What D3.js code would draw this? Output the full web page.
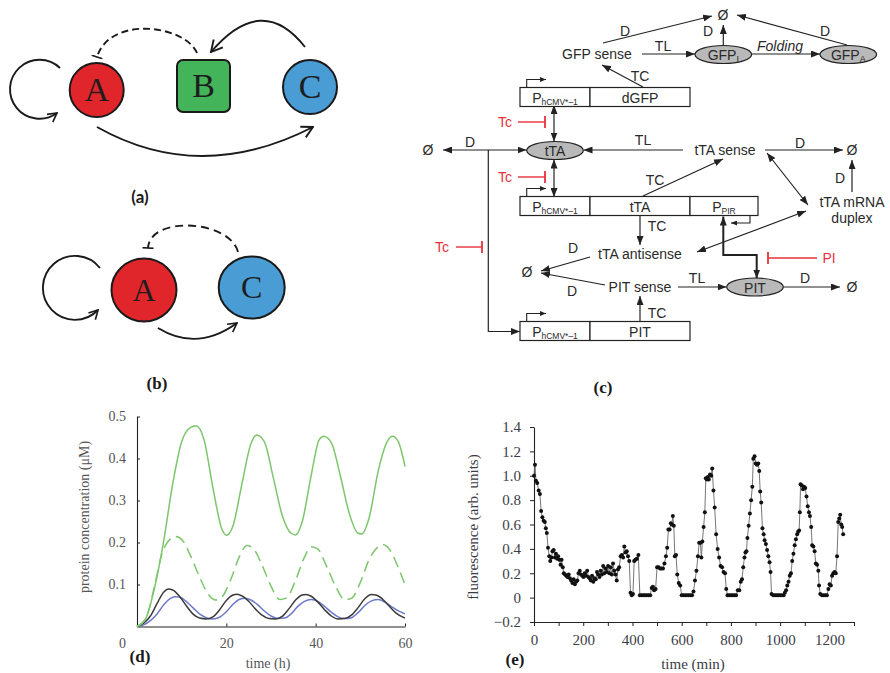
<!DOCTYPE html>
<html>
<head>
<meta charset="utf-8">
<title>Synthetic gene oscillators</title>
<script src="https://cdn.jsdelivr.net/npm/d3@7/dist/d3.min.js"></script>
<style>
  html, body { margin: 0; padding: 0; background: #fff; }
  svg { display: block; }
</style>
</head>
<body>
<svg id="figure" width="890" height="673"></svg>
<script>
// ---------- (d) model: protein concentration (µM) against time (h) ----------
const modelTimeTicks = [0, 20, 40, 60];
const modelConcTicks = [0.1, 0.2, 0.3, 0.4, 0.5];

const greenSolid = [
  [0,0],[2,0.02],[4,0.095],[6,0.205],[8,0.34],[10,0.44],[12,0.474],[13.2,0.478],
  [15,0.445],[17,0.33],[19,0.232],[20,0.217],[21.5,0.24],[23.5,0.34],[25.5,0.435],
  [26.8,0.456],[28.5,0.44],[30.5,0.355],[32.5,0.265],[34.5,0.222],[35.5,0.218],
  [37,0.25],[39,0.36],[40.8,0.445],[41.8,0.453],[43.5,0.438],[45.5,0.36],[47.5,0.27],
  [49.5,0.222],[50.3,0.22],[52,0.26],[54,0.37],[56,0.44],[57.2,0.453],[58.5,0.44],[60,0.381]
];
const greenDashed = [
  [0,0],[2,0.02],[4,0.1],[5.5,0.17],[7,0.203],[8.7,0.214],[10.2,0.205],[12,0.168],
  [14,0.118],[16,0.076],[17.6,0.063],[19,0.07],[21,0.112],[23,0.168],[24.6,0.193],
  [26,0.186],[28,0.146],[30,0.096],[32,0.064],[33.5,0.068],[35.5,0.11],[37.5,0.165],
  [39,0.19],[40.5,0.184],[42.5,0.142],[44.5,0.095],[46.5,0.064],[48,0.067],[50,0.105],
  [52,0.16],[54,0.19],[55,0.195],[56.5,0.184],[58.5,0.14],[60,0.1]
];
const blackTrace = [
  [0,0],[1.5,0.008],[3,0.025],[4.5,0.055],[6,0.082],[7,0.089],[8,0.087],[9.5,0.072],
  [11,0.05],[12.5,0.03],[14,0.02],[15.5,0.018],[17,0.023],[18.5,0.04],[20,0.062],
  [21.5,0.075],[22.4,0.077],[23.5,0.073],[25,0.06],[26.5,0.042],[28,0.027],[29.5,0.019],
  [31,0.018],[32.5,0.024],[34,0.042],[35.5,0.063],[37,0.075],[37.8,0.076],[39,0.072],
  [40.5,0.058],[42,0.04],[43.5,0.025],[45,0.018],[46.5,0.019],[48,0.027],[49.5,0.045],
  [51,0.066],[52.5,0.076],[53.5,0.075],[55,0.065],[56.5,0.048],[58,0.032],[60,0.02]
];
const blueTrace = [
  [0,0],[1.5,0.004],[3,0.014],[4.5,0.03],[6,0.052],[7.5,0.067],[8.5,0.071],[9.5,0.07],
  [11,0.06],[12.5,0.045],[14,0.03],[15.5,0.021],[17,0.018],[18.5,0.022],[20,0.035],
  [21.5,0.053],[23,0.065],[24.2,0.067],[25.5,0.063],[27,0.052],[28.5,0.037],[30,0.025],
  [31.5,0.019],[33,0.02],[34.5,0.03],[36,0.048],[37.5,0.06],[39,0.064],[40.5,0.06],
  [42,0.048],[43.5,0.034],[45,0.023],[46.5,0.019],[48,0.021],[49.5,0.033],[51,0.05],
  [52.5,0.061],[54,0.064],[55.5,0.058],[57,0.047],[58.5,0.037],[60,0.03]
];

// ---------- (e) measurement: fluorescence (arb. units) against time (min) ----------
const fluorTimeTicks = d3.range(0, 1301, 100);
const fluorTickValues = [-0.2, 0, 0.2, 0.4, 0.6, 0.8, 1.0, 1.2, 1.4];
const fluorTickLabels = ["\u22120.2", "0", "0.2", "0.4", "0.6", "0.8", "1.0", "1.2", "1.4"];

const fluorescence = [
  [0,1.00],[4,1.09],[8,0.96],[13,0.94],[19,0.88],[24,0.85],[29,0.71],[34,0.66],[39,0.63],
  [44,0.62],[48,0.57],[52,0.53],[57,0.41],[62,0.34],[66,0.30],[71,0.33],[75,0.38],[80,0.39],
  [85,0.33],[89,0.36],[94,0.32],[98,0.34],[103,0.31],[108,0.27],[112,0.31],[117,0.25],
  [121,0.20],[126,0.19],[131,0.18],[136,0.17],[141,0.19],[146,0.16],[151,0.14],[156,0.12],
  [161,0.15],[166,0.11],[171,0.13],[176,0.14],[181,0.20],[186,0.22],[191,0.19],[196,0.18],
  [201,0.17],[206,0.20],[211,0.18],[216,0.22],[221,0.17],[226,0.16],[231,0.14],[236,0.18],
  [241,0.13],[246,0.16],[251,0.15],[256,0.21],[261,0.19],[266,0.17],[271,0.22],[276,0.19],
  [281,0.26],[286,0.20],[291,0.24],[296,0.21],[301,0.26],[306,0.20],[311,0.25],[316,0.19],
  [321,0.28],[326,0.22],[331,0.19],[336,0.14],[341,0.23],[346,0.25],[352,0.34],[357,0.35],
  [362,0.33],[367,0.42],[372,0.37],[377,0.38],[382,0.34],[387,0.30],[392,0.04],[397,0.02],
  [402,0.03],[407,0.30],[412,0.31],[418,0.32],[424,0.35],[430,0.02],[437,0.02],[444,0.02],
  [451,0.02],[458,0.02],[465,0.02],[472,0.02],[478,0.08],[483,0.09],[488,0.06],[494,0.07],
  [500,0.25],[506,0.25],[512,0.24],[518,0.24],[524,0.24],[530,0.28],[536,0.34],[541,0.41],
  [546,0.56],[551,0.56],[556,0.61],[560,0.60],[564,0.67],[568,0.59],[572,0.34],[577,0.35],
  [582,0.19],[588,0.12],[594,0.10],[600,0.02],[607,0.02],[614,0.02],[621,0.02],[628,0.02],
  [635,0.02],[642,0.02],[648,0.05],[654,0.14],[660,0.22],[666,0.34],[671,0.45],[676,0.45],
  [680,0.33],[684,0.46],[689,0.58],[694,0.70],[698,0.98],[702,0.97],[706,0.99],[710,0.97],
  [715,1.01],[720,1.00],[724,1.06],[729,0.88],[734,0.74],[740,0.52],[746,0.40],[752,0.33],
  [758,0.26],[764,0.25],[770,0.21],[776,0.20],[781,0.07],[786,0.02],[793,0.02],[800,0.02],
  [807,0.02],[814,0.02],[821,0.02],[828,0.06],[834,0.06],[840,0.13],[845,0.15],[850,0.25],
  [855,0.33],[859,0.37],[863,0.38],[867,0.49],[872,0.59],[877,0.69],[882,0.80],[887,0.91],
  [891,1.14],[896,1.16],[901,1.10],[906,1.09],[911,1.10],[915,1.04],[919,0.87],[923,0.78],
  [928,0.57],[933,0.52],[937,0.47],[942,0.44],[947,0.39],[952,0.34],[957,0.29],[961,0.21],
  [965,0.03],[972,0.02],[979,0.02],[986,0.02],[993,0.02],[1000,0.02],[1007,0.02],[1014,0.02],
  [1019,0.04],[1024,0.06],[1029,0.10],[1034,0.13],[1039,0.18],[1044,0.20],[1049,0.30],
  [1054,0.36],[1059,0.43],[1064,0.48],[1069,0.52],[1073,0.54],[1077,0.55],[1080,0.70],
  [1083,0.93],[1088,0.92],[1093,0.89],[1097,0.91],[1102,0.90],[1107,0.83],[1112,0.75],
  [1117,0.70],[1121,0.67],[1126,0.58],[1130,0.43],[1135,0.42],[1140,0.38],[1145,0.28],
  [1150,0.27],[1155,0.22],[1158,0.10],[1163,0.03],[1170,0.02],[1177,0.02],[1184,0.02],
  [1190,0.02],[1196,0.07],[1201,0.11],[1206,0.10],[1211,0.18],[1216,0.20],[1221,0.21],
  [1226,0.20],[1231,0.34],[1236,0.62],[1240,0.65],[1244,0.68],[1248,0.60],[1252,0.58],[1256,0.52]
];

// ---------- network motifs (a), (b) ----------
const motifA = [
  { id: "A", shape: "circle", fill: "#e1262b" },
  { id: "B", shape: "square", fill: "#43b45a" },
  { id: "C", shape: "circle", fill: "#4a9cd4" }
];
const motifB = [
  { id: "A", shape: "circle", fill: "#e1262b" },
  { id: "C", shape: "circle", fill: "#4a9cd4" }
];

// ================================================================
const svg = d3.select("#figure");
const SERIF = "'Liberation Serif', 'Times New Roman', serif";
const SANS = "'Liberation Sans', Arial, sans-serif";
const INK = "#1a1a1a";

// markers
const defs = svg.append("defs");
function addMarker(id, vb, refX, refY, w, h, d, style) {
  const m = defs.append("marker")
    .attr("id", id).attr("viewBox", vb)
    .attr("refX", refX).attr("refY", refY)
    .attr("markerWidth", w).attr("markerHeight", h)
    .attr("markerUnits", "userSpaceOnUse")
    .attr("orient", "auto-start-reverse")
    .attr("preserveAspectRatio", "none");
  const p = m.append("path").attr("d", d);
  Object.entries(style).forEach(([k, v]) => p.attr(k, v));
}
addMarker("chev", "0 0 10 10", 9, 5, 14, 15, "M1,1 L9,5 L1,9", { fill: "none", stroke: INK, "stroke-width": 1.3 });
addMarker("chevS", "0 0 10 10", 9, 5, 11, 12, "M1,1 L9,5 L1,9", { fill: "none", stroke: INK, "stroke-width": 1.4 });
addMarker("tee", "-1 -7 2 14", 0, 0, 2, 13, "M0,-6 L0,6", { stroke: INK, "stroke-width": 1.6 });
addMarker("tri", "0 0 10 10", 10, 5, 9, 7, "M0,0 L10,5 L0,10 Z", { fill: "#222" });
addMarker("triS", "0 0 10 10", 10, 5, 6, 5, "M0,0 L10,5 L0,10 Z", { fill: "#222" });

// ---------------- motif drawing ----------------
function drawMotif(nodes, layout, edges) {
  const g = svg.append("g");
  edges.forEach(e => {
    g.append("path").attr("d", e.d)
      .attr("fill", "none").attr("stroke", INK).attr("stroke-width", 1.9)
      .attr("stroke-dasharray", e.dash || null)
      .attr("marker-end", `url(#${e.head})`);
  });
  nodes.forEach(n => {
    const p = layout[n.id];
    if (n.shape === "circle") {
      g.append("ellipse").attr("cx", p.x).attr("cy", p.y).attr("rx", p.rx).attr("ry", p.ry)
        .attr("fill", n.fill).attr("stroke", INK).attr("stroke-width", 2);
    } else {
      g.append("rect").attr("x", p.x - p.rx).attr("y", p.y - p.ry)
        .attr("width", 2 * p.rx).attr("height", 2 * p.ry).attr("rx", 6)
        .attr("fill", n.fill).attr("stroke", INK).attr("stroke-width", 2);
    }
    g.append("text").attr("x", p.x).attr("y", p.y + p.fs * 0.33)
      .attr("text-anchor", "middle").attr("font-family", SERIF)
      .attr("font-size", p.fs).attr("fill", "#1d1d1d").text(n.id);
  });
  return g;
}

drawMotif(motifA, {
  A: { x: 96.7, y: 90, rx: 27, ry: 27, fs: 34 },
  B: { x: 203.5, y: 86, rx: 26.5, ry: 26, fs: 34 },
  C: { x: 310, y: 87, rx: 27, ry: 27, fs: 34 }
}, [
  { d: "M60,68 A29.5 29.5 0 1 0 57,113", head: "chevS" },
  { d: "M97,127 Q200,185 313,127", head: "chev" },
  { d: "M305,47 Q262,-8 211,52", head: "chev" },
  { d: "M197,53 C185,25 110,15 97,57", head: "tee", dash: "7,4" }
]);

drawMotif(motifB, {
  A: { x: 144, y: 290, rx: 32.5, ry: 31.5, fs: 32 },
  C: { x: 251.7, y: 287.5, rx: 33, ry: 31, fs: 32 }
}, [
  { d: "M100,268 A32 32 0 1 0 98,310", head: "chevS" },
  { d: "M158,328 Q197,352 237,323", head: "chevS" },
  { d: "M238,252 C230,220 150,215 148,248", head: "tee", dash: "8,5" }
]);

svg.append("text").attr("x", 140).attr("y", 203).attr("text-anchor", "middle")
  .attr("font-family", "Lato, 'Open Sans', sans-serif").attr("font-weight", 700)
  .attr("font-size", 17).attr("fill", INK).text("(a)");
svg.append("text").attr("x", 157).attr("y", 389).attr("text-anchor", "middle")
  .attr("font-family", SERIF).attr("font-weight", 700)
  .attr("font-size", 17).attr("fill", INK).text("(b)");

// ---------------- (c) circuit scheme ----------------
const gc = svg.append("g").attr("font-family", SANS).attr("font-size", 14).attr("fill", "#2a2a2a");
const RED = "#e8303a";

const cLabels = [
  ["\u00d8", 723, 15], ["D", 625, 31], ["D", 708, 31], ["D", 825, 31],
  ["GFP sense", 597, 54], ["TL", 663, 46], ["TC", 640, 76],
  ["\u00d8", 428, 150], ["D", 470, 142], ["TL", 643, 140], ["tTA sense", 725, 150],
  ["D", 800, 143], ["\u00d8", 852, 150], ["TC", 655, 180],
  ["D", 840, 178], ["tTA mRNA", 852, 202], ["duplex", 852, 218],
  ["TC", 657, 226], ["D", 573, 248], ["tTA antisense", 640, 254],
  ["\u00d8", 527, 272], ["D", 572, 291], ["PIT sense", 640, 287], ["TL", 697, 278],
  ["D", 805, 278], ["\u00d8", 852, 287], ["TC", 657, 313]
];
cLabels.forEach(([t, x, y]) => {
  gc.append("text").attr("x", x).attr("y", y).attr("text-anchor", "middle")
    .attr("dominant-baseline", "central").text(t);
});
gc.append("text").attr("x", 780).attr("y", 46).attr("text-anchor", "middle")
  .attr("dominant-baseline", "central").attr("font-style", "italic").text("Folding");

// inhibitors (red)
const cInhibitors = [
  { label: "Tc", lx: 505, y: 122, x1: 518, x2: 545 },
  { label: "Tc", lx: 505, y: 177, x1: 518, x2: 545 },
  { label: "Tc", lx: 442, y: 247, x1: 456, x2: 482 },
  { label: "PI", lx: 829, y: 258, x1: 817, x2: 768 }
];
cInhibitors.forEach(d => {
  gc.append("text").attr("x", d.lx).attr("y", d.y).attr("text-anchor", "middle")
    .attr("dominant-baseline", "central").attr("fill", RED).text(d.label);
  gc.append("line").attr("x1", d.x1).attr("x2", d.x2).attr("y1", d.y).attr("y2", d.y)
    .attr("stroke", RED).attr("stroke-width", 1.4);
  gc.append("line").attr("x1", d.x2).attr("x2", d.x2).attr("y1", d.y - 6).attr("y2", d.y + 6)
    .attr("stroke", RED).attr("stroke-width", 1.8);
});

// arrows
const cArrows = [
  { p: [[603,43],[712,16]] }, { p: [[723.3,45],[723.3,25]] }, { p: [[847,45],[737,15]] },
  { p: [[642,54],[695,54]] }, { p: [[752,54],[820,54]] }, { p: [[643,87],[602,65]] },
  { p: [[554,105],[554,141.5]], both: true },
  { p: [[443,150],[526.5,150]], both: true },
  { p: [[683,150],[583.5,150]] }, { p: [[765,150],[843,150]] },
  { p: [[554,159.5],[554,197]], both: true },
  { p: [[643,196],[723,159]] },
  { p: [[767,153],[808,205]], both: true },
  { p: [[852,192],[852,160]] },
  { p: [[640,216],[640,245]] },
  { p: [[806,211],[697,252]], both: true },
  { p: [[590,257],[541,271]] }, { p: [[605,285],[541,273]] },
  { p: [[678,287],[726.5,287]] }, { p: [[783.5,287],[840,287]] },
  { p: [[640,322],[640,296]] },
  { p: [[488.3,150],[488.3,331.5],[520,331.5]] },
  { p: [[723.3,216.5],[723.3,255],[756.7,255],[756.7,278.5]], both: true, w: 2 }
];
const pathGen = d3.line();
cArrows.forEach(a => {
  gc.append("path").attr("d", pathGen(a.p)).attr("fill", "none")
    .attr("stroke", "#222").attr("stroke-width", a.w || 1.2)
    .attr("marker-end", "url(#tri)")
    .attr("marker-start", a.both ? "url(#tri)" : null);
});
// P_PIR promoter, reading leftwards
gc.append("path").attr("d", pathGen([[750,216],[750,223],[731,223]])).attr("fill", "none")
  .attr("stroke", "#222").attr("stroke-width", 1.1).attr("marker-end", "url(#triS)");

// gene constructs
const cConstructs = [
  { y: 87.5, parts: [["P", "hCMV*\u20131", 520, 590], ["dGFP", null, 590, 690]] },
  { y: 196.5, parts: [["P", "hCMV*\u20131", 520, 590], ["tTA", null, 590, 690], ["P", "PIR", 690, 758]] },
  { y: 321.5, parts: [["P", "hCMV*\u20131", 520, 590], ["PIT", null, 590, 690]] }
];
const boxH = 19;
cConstructs.forEach(c => {
  c.parts.forEach(([main, sub, x0, x1]) => {
    gc.append("rect").attr("x", x0).attr("y", c.y).attr("width", x1 - x0).attr("height", boxH)
      .attr("fill", "#fff").attr("stroke", "#222").attr("stroke-width", 1.2);
    const t = gc.append("text").attr("x", (x0 + x1) / 2).attr("y", c.y + boxH / 2 + 0.5)
      .attr("text-anchor", "middle").attr("dominant-baseline", "central").text(main);
    if (sub) t.append("tspan").attr("font-size", 8.5).attr("dy", 4).text(sub);
  });
  // transcription start arrow above the promoter
  gc.append("path").attr("d", pathGen([[526.7, c.y], [526.7, c.y - 8], [546, c.y - 8]]))
    .attr("fill", "none").attr("stroke", "#222").attr("stroke-width", 1.1)
    .attr("marker-end", "url(#triS)");
});

// protein species (grey ellipses)
const cSpecies = [
  { main: "GFP", sub: "I", x: 723.3, y: 54.5 },
  { main: "GFP", sub: "A", x: 848.3, y: 54.5 },
  { main: "tTA", sub: null, x: 555, y: 150.5 },
  { main: "PIT", sub: null, x: 755, y: 287 }
];
cSpecies.forEach(s => {
  gc.append("ellipse").attr("cx", s.x).attr("cy", s.y).attr("rx", 28.3).attr("ry", 9)
    .attr("fill", "#b9b9b9").attr("stroke", "#222").attr("stroke-width", 1.2);
  const t = gc.append("text").attr("x", s.x).attr("y", s.y + 0.5)
    .attr("text-anchor", "middle").attr("dominant-baseline", "central").text(s.main);
  if (s.sub) t.append("tspan").attr("font-size", 9).attr("dy", 4).text(s.sub);
});

svg.append("text").attr("x", 603).attr("y", 393).attr("text-anchor", "middle")
  .attr("font-family", SERIF).attr("font-weight", 700)
  .attr("font-size", 17).attr("fill", INK).text("(c)");

// ---------------- (d) model traces ----------------
const dX = d3.scaleLinear().domain([0, 60]).range([137, 405]);
const dY = d3.scaleLinear().domain([0, 0.5]).range([626.5, 416.5]);
const gd = svg.append("g");

function styleAxis(g, color, size) {
  g.attr("font-family", SERIF).attr("font-size", size).style("color", "#222");
  g.selectAll("text").attr("fill", color);
  g.select(".domain").attr("stroke-width", 1.1);
}

gd.append("g").attr("transform", `translate(${dX(0)},0)`)
  .call(d3.axisLeft(dY).tickValues(modelConcTicks).tickSize(-3).tickSizeOuter(0).tickPadding(11)
    .tickFormat(d3.format(".1f")))
  .call(g => styleAxis(g, "#555", 14));
gd.append("g").attr("transform", `translate(0,${dY(0)})`)
  .call(d3.axisBottom(dX).tickValues(modelTimeTicks).tickSize(-3).tickSizeOuter(0).tickPadding(12))
  .call(g => styleAxis(g, "#555", 14))
  .call(g => g.selectAll(".tick").filter(d => d === 0).select("text").attr("dx", -15))
  .call(g => g.selectAll(".tick").filter(d => d === 0).select("line").remove());

const dLine = d3.line().x(d => dX(d[0])).y(d => dY(d[1])).curve(d3.curveMonotoneX);
const modelSeries = [
  { data: blueTrace, color: "#6b78c9", dash: null },
  { data: blackTrace, color: "#3a3a3a", dash: null },
  { data: greenDashed, color: "#7cc66b", dash: "11,6" },
  { data: greenSolid, color: "#7cc66b", dash: null }
];
modelSeries.forEach(s => {
  gd.append("path").attr("d", dLine(s.data)).attr("fill", "none")
    .attr("stroke", s.color).attr("stroke-width", 1.5)
    .attr("stroke-dasharray", s.dash);
});

gd.append("text").attr("transform", "translate(89,517) rotate(-90)")
  .attr("text-anchor", "middle").attr("font-family", SERIF).attr("font-size", 14)
  .attr("fill", "#555").text("protein concentration (\u03bcM)");
gd.append("text").attr("x", 268).attr("y", 668).attr("text-anchor", "middle")
  .attr("font-family", SERIF).attr("font-size", 14).attr("fill", "#555").text("time (h)");
gd.append("text").attr("x", 140).attr("y", 662).attr("text-anchor", "middle")
  .attr("font-family", SERIF).attr("font-weight", 700).attr("font-size", 17)
  .attr("fill", INK).text("(d)");

// ---------------- (e) measured fluorescence ----------------
const eX = d3.scaleLinear().domain([0, 1300]).range([534, 854]);
const eY = d3.scaleLinear().domain([-0.2, 1.4]).range([622, 427]);
const ge = svg.append("g");

ge.append("g").attr("transform", `translate(${eX(0)},0)`)
  .call(d3.axisLeft(eY).tickValues(fluorTickValues).tickSize(4).tickSizeOuter(0).tickPadding(9)
    .tickFormat((d, i) => fluorTickLabels[i]))
  .call(g => styleAxis(g, "#3c3c46", 15));
ge.append("g").attr("transform", `translate(0,${eY(-0.2)})`)
  .call(d3.axisBottom(eX).tickValues(fluorTimeTicks).tickSize(4).tickSizeOuter(0).tickPadding(8)
    .tickFormat(d => d % 200 === 0 ? d : ""))
  .call(g => styleAxis(g, "#3c3c46", 15));

ge.append("path")
  .attr("d", d3.line().x(d => eX(d[0])).y(d => eY(d[1]))(fluorescence))
  .attr("fill", "none").attr("stroke", "#666").attr("stroke-width", 0.9);
ge.append("g").selectAll("circle").data(fluorescence).join("circle")
  .attr("cx", d => eX(d[0])).attr("cy", d => eY(d[1])).attr("r", 2)
  .attr("fill", "#111");

ge.append("text").attr("transform", "translate(478,527) rotate(-90)")
  .attr("text-anchor", "middle").attr("font-family", SERIF).attr("font-size", 15)
  .attr("fill", "#3c3c46").text("fluorescence (arb. units)");
ge.append("text").attr("x", 693).attr("y", 669).attr("text-anchor", "middle")
  .attr("font-family", SERIF).attr("font-size", 15).attr("fill", "#3c3c46").text("time (min)");
ge.append("text").attr("x", 515).attr("y", 665).attr("text-anchor", "middle")
  .attr("font-family", SERIF).attr("font-weight", 700).attr("font-size", 17)
  .attr("fill", INK).text("(e)");
</script>
</body>
</html>
